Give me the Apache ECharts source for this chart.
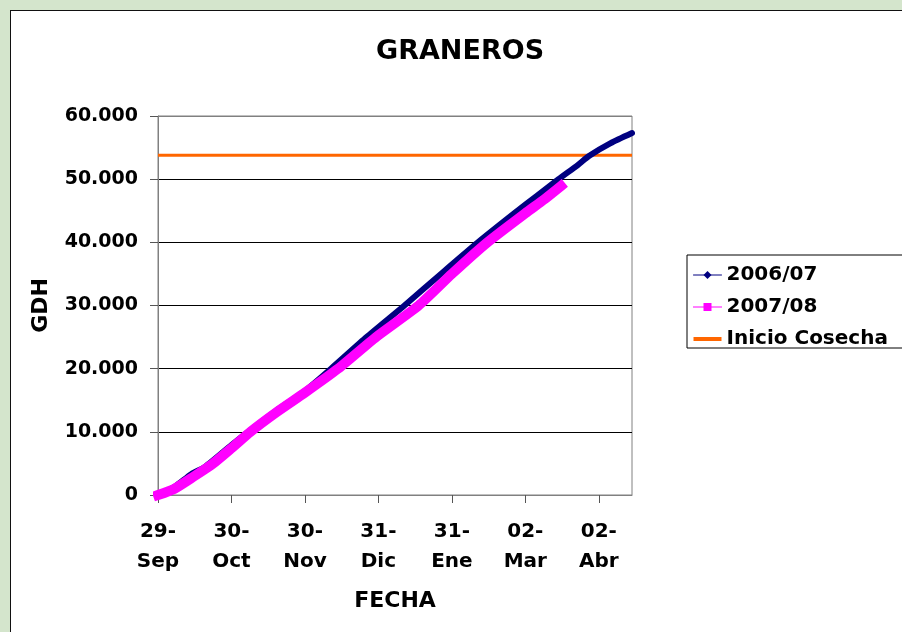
<!DOCTYPE html>
<html>
<head>
<meta charset="utf-8">
<title>GRANEROS</title>
<script src="https://cdn.jsdelivr.net/npm/echarts@6/dist/echarts.min.js"></script>
<style>
	html, body {
		margin: 0;
		padding: 0;
		width: 902px;
		height: 632px;
		overflow: hidden;
		background: #d4e5cc;
	}
	/* hoja blanca del gráfico */
	.hoja {
		position: absolute;
		left: 10px;
		top: 10px;
		width: 900px;
		height: 630px;
		background: #ffffff;
		border-left: 1px solid #111;
		border-top: 1px solid #111;
	}
	#grafico {
		position: absolute;
		left: 0;
		top: 0;
		width: 902px;
		height: 632px;
	}
</style>
</head>
<body>
<div class="hoja"></div>
<div id="grafico"></div>
<script>
	// días desde 29-Sep y GDH acumulados
	var dias0607 = [0, 7, 14, 20, 31, 38, 50, 62, 73, 88, 104, 120, 135, 150, 160, 169, 177, 182, 191, 200];
	var gdh0607 = [0, 1300, 3300, 4500, 7900, 10000, 13400, 16500, 20000, 25000, 30000, 35200, 40000, 44500, 47400, 50000, 52200, 53700, 55700, 57300];

	var dias0708 = [0, 7, 15, 23, 31, 39, 50, 62, 76, 92, 110, 124, 139, 155, 163, 170];
	var gdh0708 = [0, 1000, 2900, 4900, 7400, 10000, 13100, 16200, 20000, 25000, 30000, 35000, 40000, 44600, 46800, 48900];

	// inicio de cosecha (línea horizontal)
	var inicioCosecha = 53800;
	var diasCosecha = [0, 200];

	// etiquetas del eje X
	var diasEtiqueta = [0, 31, 62, 93, 124, 155, 186];
	var etiquetasFecha = ['29-\nSep', '30-\nOct', '30-\nNov', '31-\nDic', '31-\nEne', '02-\nMar', '02-\nAbr'];

	function pares(xs, ys) {
		var out = [];
		for (var i = 0; i < xs.length; i++) {
			out.push([xs[i], ys[i]]);
		}
		return out;
	}

	function miles(v) {
		return String(v).replace(/\B(?=(\d{3})+(?!\d))/g, '.');
	}

	var fuente = 'DejaVu Sans';

	var myChart = echarts.init(document.getElementById('grafico'), null, { renderer: 'canvas' });
	var option;

	option = {
		backgroundColor: 'transparent',
		animation: false,
		textStyle: {
			fontFamily: fuente
		},
		title: {
			text: 'GRANEROS',
			left: 371,
			top: 33,
			textStyle: {
				fontFamily: fuente,
				fontSize: 27,
				fontWeight: 'bold',
				color: '#000'
			}
		},
		// caja de la leyenda: sigue más allá del borde derecho
		graphic: [
			{
				type: 'rect',
				z: -1,
				shape: { x: 687, y: 255, width: 260, height: 93 },
				style: { fill: '#fff', stroke: '#000', lineWidth: 1 }
			}
		],
		legend: {
			orient: 'vertical',
			left: 687,
			top: 255,
			padding: [10, 10, 0, 6],
			itemGap: 12,
			itemWidth: 28,
			itemHeight: 10,
			textStyle: {
				fontFamily: fuente,
				fontSize: 20,
				fontWeight: 'bold',
				color: '#000',
				lineHeight: 20
			},
			data: [
				{ name: '2006/07', lineStyle: { width: 1 } },
				{ name: '2007/08', lineStyle: { width: 1 } },
				// solo una línea gruesa, sin marcador
				{ name: 'Inicio Cosecha', icon: 'path://M0,0H28V4H0Z', itemStyle: { color: '#ff6600' } }
			]
		},
		grid: {
			left: 158,
			top: 116,
			right: 270,
			bottom: 137,
			show: true,
			borderColor: '#808080',
			borderWidth: 1
		},
		xAxis: {
			type: 'value',
			min: 0,
			max: 200,
			name: 'FECHA',
			nameLocation: 'middle',
			nameGap: 95,
			nameTextStyle: {
				fontFamily: fuente,
				fontSize: 22,
				fontWeight: 'bold',
				color: '#000'
			},
			axisLine: { lineStyle: { color: '#808080', width: 1 } },
			axisTick: {
				show: true,
				length: 8,
				customValues: diasEtiqueta,
				lineStyle: { color: '#555' }
			},
			axisLabel: {
				customValues: diasEtiqueta,
				margin: 22,
				fontFamily: fuente,
				fontSize: 20,
				fontWeight: 'bold',
				color: '#000',
				lineHeight: 30,
				formatter: function (v) {
					var i = diasEtiqueta.indexOf(v);
					return i >= 0 ? etiquetasFecha[i] : '';
				}
			},
			splitLine: { show: false }
		},
		yAxis: {
			type: 'value',
			min: 0,
			max: 60000,
			interval: 10000,
			name: 'GDH',
			nameLocation: 'middle',
			nameGap: 106,
			nameTextStyle: {
				fontFamily: fuente,
				fontSize: 22,
				fontWeight: 'bold',
				color: '#000'
			},
			axisLine: { show: true, lineStyle: { color: '#808080', width: 1 } },
			axisTick: { show: true, length: 8, lineStyle: { color: '#555' } },
			axisLabel: {
				margin: 20,
				fontFamily: fuente,
				fontSize: 19,
				fontWeight: 'bold',
				color: '#000',
				formatter: function (v) {
					return miles(v);
				}
			},
			splitLine: {
				show: true,
				lineStyle: {
					// la primera y la última coinciden con el borde gris
					color: ['#808080', '#000', '#000', '#000', '#000', '#000', '#808080'],
					width: 1
				}
			}
		},
		series: [
			{
				name: 'Inicio Cosecha',
				type: 'line',
				z: 1,
				symbol: 'none',
				color: '#ff6600',
				lineStyle: { color: '#ff6600', width: 3 },
				data: pares(diasCosecha, [inicioCosecha, inicioCosecha])
			},
			{
				name: '2006/07',
				type: 'line',
				z: 2,
				clip: false,
				smooth: 0.2,
				symbol: 'diamond',
				symbolSize: 6,
				showSymbol: false,
				color: '#000080',
				lineStyle: { color: '#000080', width: 6, cap: 'round', join: 'round' },
				data: pares(dias0607, gdh0607)
			},
			{
				name: '2007/08',
				type: 'line',
				z: 3,
				clip: false,
				smooth: 0.2,
				symbol: 'rect',
				symbolSize: 7,
				showSymbol: false,
				color: '#ff00ff',
				lineStyle: { color: '#ff00ff', width: 10, cap: 'square', join: 'round' },
				data: pares(dias0708, gdh0708)
			}
		]
	};

	option && myChart.setOption(option);
</script>
</body>
</html>
